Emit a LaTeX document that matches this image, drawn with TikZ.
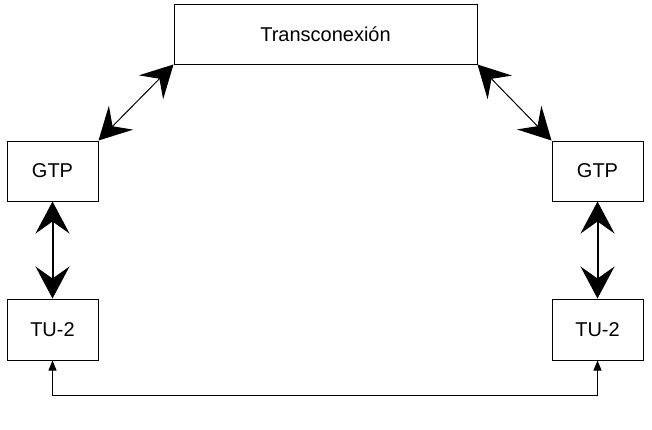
\documentclass[tikz,border=0pt]{standalone}
\usepackage{fontspec}
\setmainfont{Liberation Sans}
\usetikzlibrary{arrows.meta}
\begin{document}
\begin{tikzpicture}[x=1pt,y=-1pt,
  box/.style={draw,line width=1pt,inner sep=0pt,
    font=\fontsize{20}{24}\selectfont},
  bigtip/.style={line width=#1,
    {Stealth[length=32pt,width=34pt,inset=12pt]}-{Stealth[length=32pt,width=34pt,inset=12pt]}},
  smalltip/.style={line width=1pt,
    {Triangle[length=10pt,width=8pt]}-{Triangle[length=10pt,width=8pt]}}]
  \useasboundingbox (0,0) rectangle (652,429);

  % cross-connect at the top
  \node[box,minimum width=303pt,minimum height=60pt] (tc) at (325.5,34) {Transconexión};

  % left chain
  \node[box,minimum width=91pt,minimum height=60pt] (gl) at (52.5,171) {GTP};
  \node[box,minimum width=91pt,minimum height=61pt] (ul) at (52.5,329.5) {TU-2};

  % right chain
  \node[box,minimum width=91pt,minimum height=60pt] (gr) at (597.5,171) {GTP};
  \node[box,minimum width=91pt,minimum height=61pt] (ur) at (597.5,329.5) {TU-2};

  % links between GTP and the cross-connect
  \draw[bigtip=1pt] (gl.north east) -- (tc.south west);
  \draw[bigtip=1pt] (tc.south east) -- (gr.north west);

  % links between GTP and TU-2
  \draw[bigtip=2pt] (gl.south) -- (ul.north);
  \draw[bigtip=2pt] (gr.south) -- (ur.north);

  % loop joining the two TU-2 blocks
  \coordinate (loop) at (52.5,395);
  \draw[smalltip] (ul.south) -- (loop) -| (ur.south);
\end{tikzpicture}
\end{document}
